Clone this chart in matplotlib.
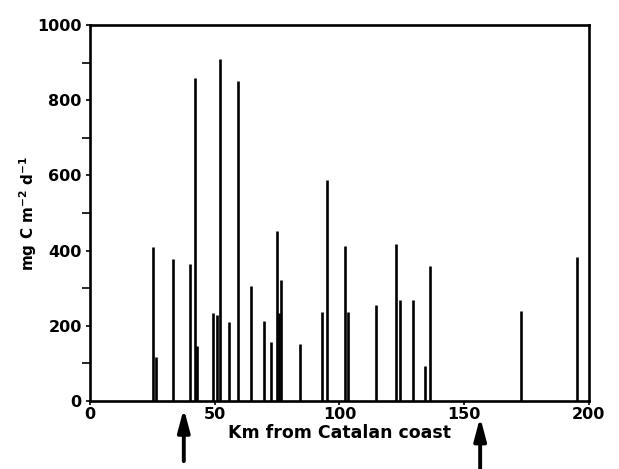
import matplotlib
matplotlib.use("Agg")
import matplotlib.pyplot as plt
import numpy as np

# station positions (km from coast) and primary production values
km = [25.4, 26.5, 33.3, 40.1, 42.1, 43.0, 49.3, 50.9, 52.1, 55.6,
      59.3, 64.4, 69.7, 72.7, 74.8, 75.6, 76.6, 84.0, 93.1, 95.0,
      102.3, 103.3, 114.6, 122.5, 124.4, 129.3, 134.4, 136.4, 172.7, 195.1]
prod = [410, 118, 377, 365, 860, 146, 233, 228, 910, 211,
        850, 307, 214, 156, 453, 235, 322, 152, 238, 589,
        413, 238, 255, 418, 268, 268, 92, 358, 240, 384]

# arrows marking positions below the x axis
arrow_km = [37.6, 156.4]

xticks = [0, 50, 100, 150, 200]
yticks = [0, 200, 400, 600, 800, 1000]

plt.rcParams['font.family'] = ['DejaVu Sans']
plt.rcParams['font.weight'] = 'bold'
plt.rcParams['mathtext.default'] = 'bf'

fig = plt.figure(figsize=(6.19, 4.69), dpi=100)
ax = fig.add_axes([0.1454, 0.145, 0.806, 0.8017])

ax.vlines(km, 0, prod, colors='k', lw=1.9)

ax.set_xlim(0, 200)
ax.set_ylim(0, 1000)
ax.set_xticks(xticks)
ax.set_yticks(yticks)
ax.set_yticks(np.arange(100, 1000, 200), minor=True)
ax.tick_params(axis='both', which='major', labelsize=11.5, width=1.2, length=3,
               direction='out', pad=3)
ax.tick_params(axis='x', which='major', pad=1)
ax.tick_params(axis='y', which='minor', width=1.2, length=6, direction='out')
for lab in ax.get_xticklabels() + ax.get_yticklabels():
    lab.set_fontweight('bold')

for s in ax.spines.values():
    s.set_linewidth(1.9)

ax.set_xlabel('Km from Catalan coast', fontsize=12.5, fontweight='bold', labelpad=2)
ax.set_ylabel('mg C m$^{-2}$ d$^{-1}$', fontsize=11, fontweight='bold')
ax.yaxis.set_label_coords(-0.103, 0.5)

tr = ax.get_xaxis_transform()
tips = [-0.02, -0.043]
tails = [-0.16, -0.185]
for xa, t0, t1 in zip(arrow_km, tips, tails):
    ax.annotate('', xy=(xa, t0), xycoords=tr, xytext=(xa, t1), textcoords=tr,
                arrowprops=dict(arrowstyle='-|>,head_length=0.75,head_width=0.2',
                                lw=2.8, color='k', mutation_scale=18,
                                shrinkA=0, shrinkB=0),
                annotation_clip=False)

fig.savefig('out.png', dpi=100)
